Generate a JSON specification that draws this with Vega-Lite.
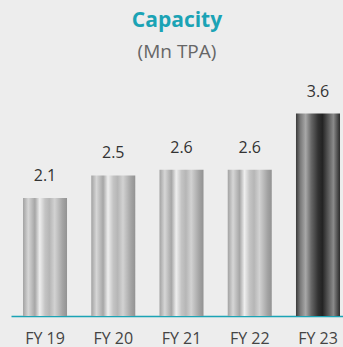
{
  "$schema": "https://vega.github.io/schema/vega-lite/v6.json",
  "width": 332,
  "height": 225,
  "autosize": {"type": "none"},
  "padding": {"left": 11, "top": 91, "right": 0, "bottom": 31},
  "background": "#ededed",
  "title": {
    "text": "Capacity",
    "subtitle": "(Mn TPA)",
    "anchor": "middle",
    "font": "Open Sans",
    "fontSize": 21,
    "fontWeight": "bold",
    "color": "#1ba3b5",
    "subtitleFont": "Open Sans",
    "subtitleFontSize": 19,
    "subtitleColor": "#666666",
    "subtitlePadding": 12,
    "offset": 22
  },
  "config": {"view": {"stroke": null}},
  "data": {
    "values": [
      {"year": "FY 19", "capacity": 2.1, "kind": "past"},
      {"year": "FY 20", "capacity": 2.5, "kind": "past"},
      {"year": "FY 21", "capacity": 2.6, "kind": "past"},
      {"year": "FY 22", "capacity": 2.6, "kind": "past"},
      {"year": "FY 23", "capacity": 3.6, "kind": "current"}
    ]
  },
  "encoding": {
    "x": {
      "field": "year",
      "type": "nominal",
      "sort": null,
      "scale": {"paddingInner": 0.355, "paddingOuter": 0.11, "align": 0.8},
      "axis": {
        "title": null,
        "labelAngle": 0,
        "labelFont": "Open Sans",
        "labelFontSize": 16,
        "labelColor": "#444444",
        "labelBaseline": "alphabetic",
        "labelPadding": 27,
        "ticks": false,
        "tickSize": 0,
        "domainColor": "#1ba3b5",
        "domainWidth": 1.5,
        "grid": false
      }
    },
    "y": {
      "field": "capacity",
      "type": "quantitative",
      "scale": {"domain": [0, 4], "nice": false},
      "axis": null
    }
  },
  "layer": [
    {
      "transform": [{"filter": "datum.kind === 'past'"}],
      "mark": {
        "type": "bar",
        "fill": {
          "gradient": "linear",
          "x1": 0, "y1": 0, "x2": 1, "y2": 0,
          "stops": [
            {"offset": 0, "color": "#a2a2a2"},
            {"offset": 0.12, "color": "#d6d6d6"},
            {"offset": 0.27, "color": "#a6a6a6"},
            {"offset": 0.38, "color": "#eeeeee"},
            {"offset": 0.5, "color": "#c4c4c4"},
            {"offset": 0.6, "color": "#b6b6b6"},
            {"offset": 0.72, "color": "#d2d2d2"},
            {"offset": 0.9, "color": "#a4a4a4"},
            {"offset": 1, "color": "#929292"}
          ]
        }
      }
    },
    {
      "transform": [{"filter": "datum.kind === 'current'"}],
      "mark": {
        "type": "bar",
        "fill": {
          "gradient": "linear",
          "x1": 0, "y1": 0, "x2": 1, "y2": 0,
          "stops": [
            {"offset": 0, "color": "#3a3a3a"},
            {"offset": 0.1, "color": "#7a7a7a"},
            {"offset": 0.22, "color": "#a8a8a8"},
            {"offset": 0.35, "color": "#666666"},
            {"offset": 0.5, "color": "#333333"},
            {"offset": 0.6, "color": "#232323"},
            {"offset": 0.75, "color": "#606060"},
            {"offset": 0.85, "color": "#8a8a8a"},
            {"offset": 0.95, "color": "#4a4a4a"},
            {"offset": 1, "color": "#2a2a2a"}
          ]
        }
      }
    },
    {
      "mark": {
        "type": "text",
        "baseline": "alphabetic",
        "dy": -17,
        "font": "Open Sans",
        "fontSize": 16,
        "color": "#333333"
      },
      "encoding": {
        "text": {"field": "capacity", "type": "quantitative", "format": ".1f"}
      }
    }
  ]
}
